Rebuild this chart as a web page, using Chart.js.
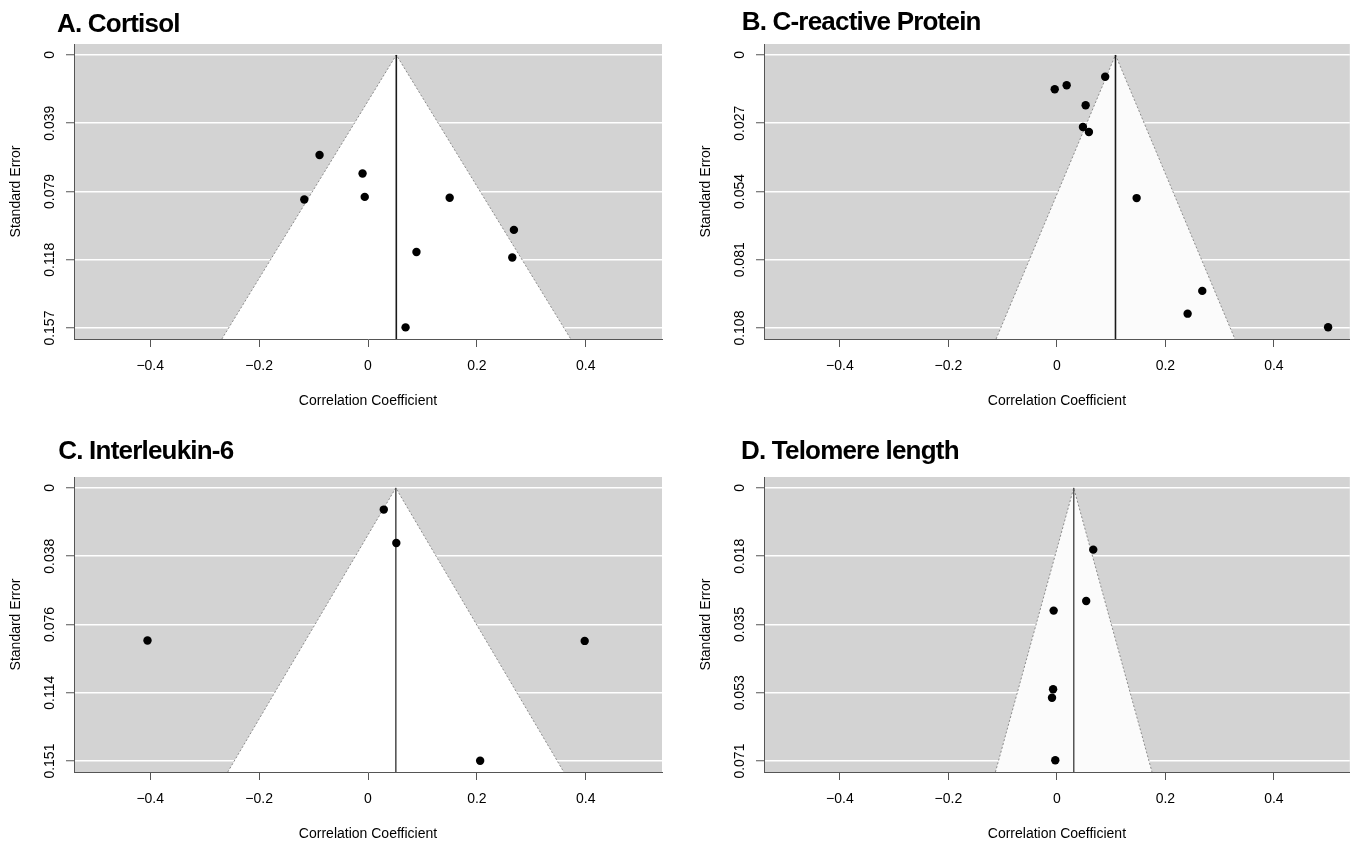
<!DOCTYPE html>
<html>
<head>
<meta charset="utf-8">
<title>Funnel plots</title>
<script src="https://cdn.jsdelivr.net/npm/chart.js@4.4.0/dist/chart.umd.min.js"></script>
<style>
  body { margin: 0; background: #fff; overflow: hidden; }
  canvas { position: absolute; }
</style>
</head>
<body>
<canvas id="cortisol" width="677" height="410" style="left:0;top:0"></canvas>
<canvas id="crp" width="664" height="410" style="left:690px;top:0"></canvas>
<canvas id="il6" width="677" height="410" style="left:0;top:433px"></canvas>
<canvas id="telomere" width="664" height="410" style="left:690px;top:433px"></canvas>
<script>
// x axis, shared by all four panels
const xTicks = [-0.4, -0.2, 0, 0.2, 0.4];
const xTickLabels = ['\u22120.4', '\u22120.2', '0', '0.2', '0.4'];

// A. Cortisol
const cortisolR  = [-0.089, -0.010, -0.117, -0.006, 0.150, 0.268, 0.089, 0.265, 0.069];
const cortisolSE = [0.0576, 0.0682, 0.0832, 0.0817, 0.0822, 0.1007, 0.1134, 0.1166, 0.1568];
const cortisolEst = 0.052;
const cortisolSeMax = 0.1572;
const cortisolYLabels = ['0', '0.039', '0.079', '0.118', '0.157'];

// B. C-reactive Protein
const crpR  = [0.089, 0.018, -0.004, 0.053, 0.048, 0.059, 0.147, 0.268, 0.241, 0.500];
const crpSE = [0.0086, 0.0120, 0.0136, 0.0199, 0.0285, 0.0305, 0.0566, 0.0933, 0.1023, 0.1077];
const crpEst = 0.108;
const crpSeMax = 0.108;
const crpYLabels = ['0', '0.027', '0.054', '0.081', '0.108'];

// C. Interleukin-6
const il6R  = [0.029, 0.052, -0.405, 0.398, 0.206];
const il6SE = [0.0120, 0.0305, 0.0846, 0.0848, 0.1512];
const il6Est = 0.051;
const il6SeMax = 0.1514;
const il6YLabels = ['0', '0.038', '0.076', '0.114', '0.151'];

// D. Telomere length
const telomereR  = [0.067, 0.054, -0.006, -0.007, -0.009, -0.003];
const telomereSE = [0.0160, 0.0293, 0.0318, 0.0522, 0.0544, 0.0706];
const telomereEst = 0.031;
const telomereSeMax = 0.0708;
const telomereYLabels = ['0', '0.018', '0.035', '0.053', '0.071'];

Chart.defaults.font.family = '"Liberation Sans", Arial, sans-serif';
Chart.defaults.color = '#000';

const plotBg = {
  id: 'plotBg',
  beforeDraw(chart) {
    const a = chart.chartArea;
    const ctx = chart.ctx;
    ctx.save();
    ctx.fillStyle = '#d3d3d3';
    ctx.fillRect(a.left, a.top, a.right - a.left, a.bottom - a.top);
    ctx.restore();
  }
};

const panelTitle = {
  id: 'panelTitle',
  afterDraw(chart, args, o) {
    const ctx = chart.ctx;
    ctx.save();
    ctx.font = 'bold 26px "Liberation Sans", Arial, sans-serif';
    ctx.letterSpacing = '-0.8px';
    ctx.fillStyle = '#000';
    ctx.textBaseline = 'alphabetic';
    ctx.fillText(o.text, o.x, o.y);
    ctx.restore();
  }
};

function funnel(id, title, tx, ty, r, se, est, seMax, yLabels, look) {
  const seBottom = seMax * 1.04;
  const yTicks = yLabels.map((_, i) => seMax * i / 4);

  new Chart(document.getElementById(id), {
    type: 'scatter',
    data: {
      datasets: [
        {
          data: r.map((v, i) => ({ x: v, y: se[i] })),
          backgroundColor: '#000',
          borderColor: '#000',
          pointRadius: 4.2,
          pointBorderWidth: 0,
          order: 0
        },
        {
          type: 'line',
          data: [{ x: est, y: 0 }, { x: est, y: seBottom }],
          borderColor: look.lineColor,
          borderWidth: look.lineWidth,
          pointRadius: 0,
          order: 1
        },
        {
          type: 'line',
          data: [
            { x: est - 1.96 * seBottom, y: seBottom },
            { x: est, y: 0 },
            { x: est + 1.96 * seBottom, y: seBottom }
          ],
          fill: { value: seBottom },
          backgroundColor: look.fill,
          borderColor: '#8c8c8c',
          borderDash: [2, 2],
          borderWidth: 1,
          pointRadius: 0,
          tension: 0,
          order: 2
        }
      ]
    },
    options: {
      responsive: false,
      animation: false,
      layout: { padding: { top: 44, right: look.padRight, left: 0, bottom: 0 } },
      plugins: {
        legend: { display: false },
        tooltip: { enabled: false },
        panelTitle: { text: title, x: tx, y: ty }
      },
      scales: {
        x: {
          type: 'linear',
          min: -0.54,
          max: 0.54,
          afterBuildTicks: s => { s.ticks = xTicks.map(v => ({ value: v })); },
          afterFit: s => { s.height = 71; },
          ticks: {
            callback: (v, i) => xTickLabels[i],
            font: { size: 14 },
            color: '#000',
            padding: 10.5,
            maxRotation: 0,
            autoSkip: false
          },
          grid: { drawOnChartArea: false, tickLength: 8, tickColor: '#555', tickWidth: 1 },
          border: { color: '#555', width: 1 },
          title: {
            display: true,
            text: 'Correlation Coefficient',
            font: { size: 14 },
            color: '#000',
            padding: { top: 0, bottom: 0 }
          }
        },
        y: {
          type: 'linear',
          reverse: true,
          min: -0.04 * seMax,
          max: seBottom,
          afterBuildTicks: s => { s.ticks = yTicks.map(v => ({ value: v })); },
          afterFit: s => { s.width = 74; },
          ticks: {
            callback: (v, i) => yLabels[i],
            font: { size: 14 },
            color: '#000',
            minRotation: 90,
            maxRotation: 90,
            crossAlign: 'center',
            padding: -1.5,
            autoSkip: false
          },
          grid: { color: '#fff', lineWidth: 1.5, tickLength: 8, tickColor: '#555', tickWidth: 1 },
          border: { color: '#555', width: 1 },
          title: {
            display: true,
            text: 'Standard Error',
            font: { size: 14 },
            color: '#000',
            padding: { top: 8, bottom: 0 }
          }
        }
      }
    },
    plugins: [plotBg, panelTitle]
  });
}

funnel('cortisol', 'A. Cortisol', 57, 31.7, cortisolR, cortisolSE, cortisolEst, cortisolSeMax, cortisolYLabels,
  { lineColor: '#1a1a1a', lineWidth: 1.6, fill: '#fff', padRight: 15 });
funnel('crp', 'B. C-reactive Protein', 51.7, 30, crpR, crpSE, crpEst, crpSeMax, crpYLabels,
  { lineColor: '#1a1a1a', lineWidth: 1.6, fill: '#fbfbfb', padRight: 2 });
funnel('il6', 'C. Interleukin-6', 58.3, 26.3, il6R, il6SE, il6Est, il6SeMax, il6YLabels,
  { lineColor: '#555', lineWidth: 1, fill: '#fff', padRight: 15 });
funnel('telomere', 'D. Telomere length', 51, 26.3, telomereR, telomereSE, telomereEst, telomereSeMax, telomereYLabels,
  { lineColor: '#555', lineWidth: 1, fill: '#fbfbfb', padRight: 2 });
</script>
</body>
</html>
